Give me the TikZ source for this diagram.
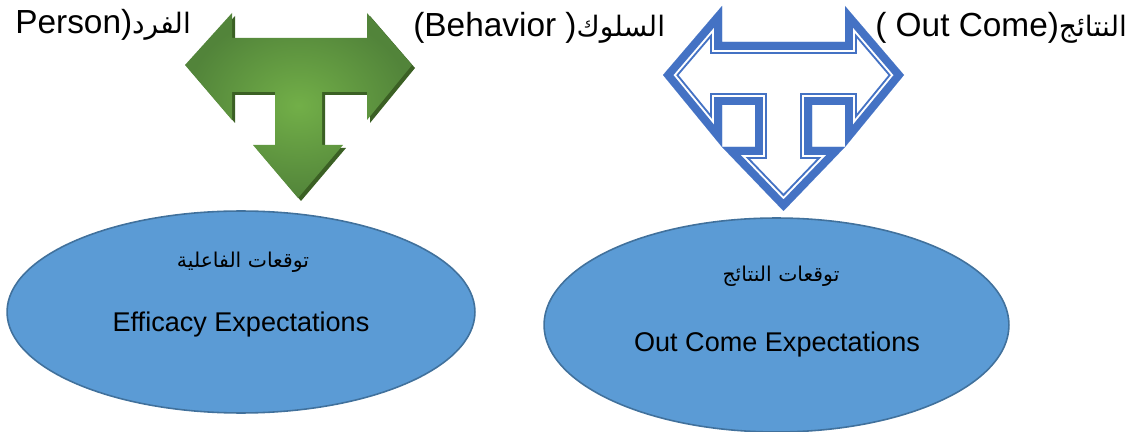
\documentclass[tikz,border=0pt]{standalone}
\usepackage{fontspec}
\setmainfont{Liberation Sans}
\newfontfamily\arabicfont[Script=Arabic]{DejaVu Sans}
\TeXXeTstate=1
\usetikzlibrary{shapes.geometric}
\definecolor{arrowgreen}{HTML}{72AF48}
\definecolor{darkgreen}{HTML}{52843A}
\definecolor{shadowgreen}{HTML}{3B6024}
\definecolor{outlineblue}{HTML}{4472C4}
\definecolor{ovalblue}{HTML}{5B9BD5}
\definecolor{ovalborder}{HTML}{41719C}
\newcommand{\artext}[2][11.6]{{\arabicfont\fontsize{#1}{#1}\selectfont\beginR#2\endR}}
\tikzset{
  oval/.style={ellipse,draw=ovalborder,fill=ovalblue,line width=0.9pt,inner sep=0pt},
  txt/.style={inner sep=0pt,font=\fontsize{15.4}{18}\selectfont},
  toplabel/.style={inner sep=0pt,anchor=base west,font=\fontsize{19}{22}\selectfont},
}
% T shaped arrows, coordinates in pixels
\def\greenT{(185,65) -- (232,13) -- (232,38) -- (367,38) -- (367,13) -- (412,65) -- (367,120) -- (367,92) -- (322,92) -- (322,145) -- (343,145) -- (298,198) -- (253,145) -- (275,145) -- (275,92) -- (232,92) -- (232,120) -- cycle}
\def\blueT{(663,75) -- (722,6) -- (722,42) -- (845,42) -- (845,6) -- (904,75) -- (845,147) -- (845,105) -- (812,105) -- (812,147) -- (845,147) -- (783.5,211) -- (722,147) -- (755,147) -- (755,105) -- (722,105) -- (722,147) -- cycle}
\begin{document}
\begin{tikzpicture}[x=0.02cm,y=-0.02cm]
\useasboundingbox (0,0) rectangle (1143,432);
% green arrow
\fill[shadowgreen,shift={(3,3)}] \greenT;
\shade[inner color=arrowgreen,outer color=darkgreen] \greenT;
% blue arrow (thick-thin outline)
\begin{scope}[line join=miter,miter limit=2]
\clip \blueT;
\draw[outlineblue,line width=13.6pt] \blueT;
\draw[white,line width=11.34pt] \blueT;
\draw[outlineblue,line width=9.07pt] \blueT;
\end{scope}
% ovals
\node[oval,minimum width=9.36cm,minimum height=4.04cm] (efficacy) at (241,312) {};
\node[oval,minimum width=9.3cm,minimum height=4.28cm] (outcomes) at (776.5,325) {};
\node[txt] (efficacyAr) at (243,262) {\artext{توقعات الفاعلية}};
\node[txt,anchor=base] (efficacyEn) at (241,332) {Efficacy Expectations};
\node[txt] (outcomesAr) at (781,276) {\artext{توقعات النتائج}};
\node[txt,anchor=base] (outcomesEn) at (777,352) {Out Come Expectations};
% labels
\node[toplabel] (person) at (15,34) {Person)\artext[16]{الفرد}};
\node[toplabel] (behavior) at (413,37) {(Behavior )\artext[16]{السلوك}};
\node[toplabel] (outcome) at (875,37) {( Out Come)\artext[16]{النتائج}};
\end{tikzpicture}
\end{document}
